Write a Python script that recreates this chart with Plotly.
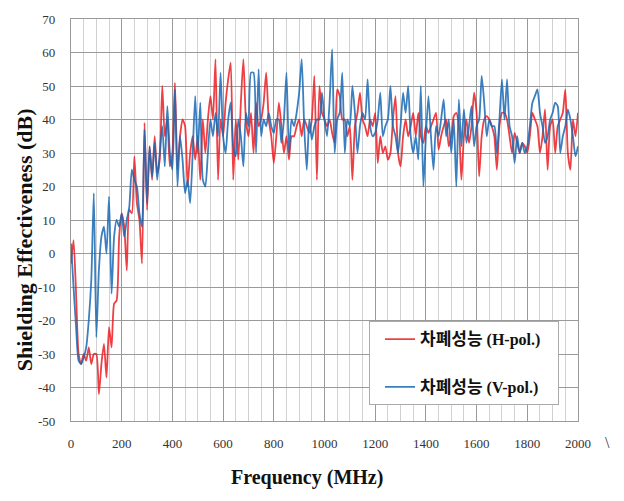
import plotly.graph_objects as go

freq_mhz = list(range(0, 2001, 10))

se_h_pol = [
    -3, 4, -12, -30, -33, -30, -32, -28, -33, -30,
    -30, -42, -33, -27, -37, -22, -28, -15, -14, 5,
    12, 8, -5, 13, 12, 29, 15, 10, -3, 39,
    13, 32, 22, 35, 24, 28, 50, 35, 40, 26,
    30, 51, 25, 35, 40, 38, 20, 30, 35, 28,
    35, 22, 40, 30, 40, 47, 40, 58, 22, 40,
    35, 45, 52, 57, 22, 40, 28, 45, 58, 40,
    35, 42, 30, 45, 38, 40, 45, 54, 40, 35,
    27, 35, 45, 38, 30, 35, 28, 35, 35, 38,
    40, 35, 40, 38, 36, 40, 53, 22, 50, 42,
    40, 38, 40, 36, 33, 49, 47, 40, 40, 35,
    38, 22, 38, 42, 48, 40, 38, 35, 40, 38,
    42, 27, 35, 30, 32, 28, 30, 40, 47, 30,
    26, 35, 40, 35, 38, 42, 35, 42, 35, 33,
    38, 36, 38, 40, 42, 31, 35, 38, 40, 32,
    35, 41, 42, 38, 22, 35, 40, 33, 38, 48,
    42, 23, 35, 40, 41, 40, 38, 35, 25, 38,
    42, 42, 40, 35, 30, 36, 33, 30, 33, 32,
    30, 35, 42, 40, 38, 30, 35, 43, 25, 38,
    40, 30, 38, 40, 42, 49, 30, 25, 40, 35,
    42,
]

se_v_pol = [
    3, -10, -22, -32, -33, -31, -28, -20, -8, 18,
    -25, -5, 5, 8, 0, 17, -12, 5, 10, 8,
    12, 5, 10, 14, 25, 22, 20, 12, 8, 37,
    15, 32, 23, 33, 22, 30, 38, 26, 44, 30,
    25, 49, 20, 35, 28, 18, 22, 15, 30, 47,
    30, 45, 22, 20, 30, 40, 35, 42, 35, 54,
    35, 30, 40, 45, 32, 29, 40, 35, 26, 42,
    38, 54, 54, 30, 55, 35, 40, 38, 42, 38,
    36, 40, 40, 33, 40, 54, 30, 40, 38, 42,
    48, 58, 38, 25, 40, 34, 38, 40, 40, 48,
    40, 35, 45, 61, 30, 40, 42, 54, 30, 40,
    38, 50, 42, 30, 38, 42, 40, 52, 38, 35,
    36, 40, 48, 35, 38, 40, 50, 38, 35, 30,
    38, 48, 42, 50, 35, 30, 35, 28, 50, 20,
    35, 47, 35, 25, 38, 35, 40, 46, 35, 40,
    30, 40, 20, 46, 32, 43, 33, 38, 44, 32,
    38, 40, 53, 45, 35, 40, 38, 38, 30, 40,
    52, 40, 52, 38, 35, 27, 35, 30, 33, 30,
    32, 38, 45, 47, 49, 42, 38, 33, 35, 40,
    42, 45, 44, 30, 35, 38, 43, 40, 35, 29,
    32,
]

KR = "<span style='font-family:\"Noto Sans CJK KR\";font-size:17px;font-weight:bold'>차폐성능</span>"
name_h = KR + " <b>(H-pol.)</b>&nbsp;&nbsp;&nbsp;"
name_v = KR + " <b>(V-pol.)</b>&nbsp;&nbsp;&nbsp;"

L, R, T, B = 71, 578, 14, 421
W, H = 624, 501
PW, PH = R - L, B - T


def px(xp):
    return (xp - L) / PW


def py(yp):
    return (B - yp) / PH


fig = go.Figure()
fig.add_trace(go.Scatter(
    x=freq_mhz, y=se_h_pol, mode="lines", name=name_h,
    line=dict(color="rgba(235,30,35,0.85)", width=1.8, shape="spline", smoothing=0.6),
    legendgroup="h",
))
fig.add_trace(go.Scatter(
    x=freq_mhz, y=se_v_pol, mode="lines", name=name_v,
    line=dict(color="rgba(25,105,180,0.85)", width=1.8, shape="spline", smoothing=0.6),
    legendgroup="v",
))

fig.update_layout(
    width=W, height=H,
    margin=dict(l=L, r=W - R, t=T, b=H - B),
    plot_bgcolor="white", paper_bgcolor="white",
    showlegend=True,
    legend=dict(
        x=px(369), y=py(320), xanchor="left", yanchor="top",
        bgcolor="white", bordercolor="#aaaaaa", borderwidth=1,
        font=dict(family="Liberation Serif", size=16, color="#111"),
        traceorder="grouped", tracegroupgap=24, itemwidth=30,
        indentation=10,
    ),
    xaxis=dict(
        range=[0, 2000], tickmode="array",
        tickvals=list(range(0, 2001, 200)),
        ticktext=[str(v) for v in range(0, 2001, 200)],
        showgrid=True, gridcolor="#9a9a9a", gridwidth=1.3,
        minor=dict(dtick=50, showgrid=True, gridcolor="#d2d2d2", gridwidth=1.2),
        zeroline=False, showline=True, linecolor="#9a9a9a", linewidth=1.3, mirror=True,
        tickfont=dict(family="Liberation Serif", size=13, color="#333"),
        ticks="", ticklabelstandoff=10,
    ),
    yaxis=dict(
        range=[-50, 70], tickmode="array",
        tickvals=list(range(-50, 71, 10)),
        ticktext=[str(v) for v in range(-50, 71, 10)],
        showgrid=True, gridcolor="#9a9a9a", gridwidth=1.3,
        zeroline=False, showline=True, linecolor="#9a9a9a", linewidth=1.3, mirror=True,
        tickfont=dict(family="Liberation Serif", size=13, color="#333"),
        ticks="", ticklabelstandoff=12,
    ),
    annotations=[
        dict(text="<b>Frequency (MHz)</b>", xref="paper", yref="paper",
             x=px(307), y=py(478), xanchor="center", yanchor="middle",
             showarrow=False, font=dict(family="Liberation Serif", size=20, color="#111")),
        dict(text="<b>Shielding Effectiveness (dB)</b>", xref="paper", yref="paper",
             x=px(24), y=py(238), xanchor="center", yanchor="middle",
             textangle=-90, showarrow=False,
             font=dict(family="Liberation Serif", size=22, color="#111")),
        dict(text="\\", xref="paper", yref="paper",
             x=px(607), y=py(443), xanchor="center", yanchor="middle",
             showarrow=False, font=dict(family="Liberation Serif", size=16, color="#333")),
    ],
)

fig.write_html(
    "out.html",
    config={"displayModeBar": False},
    post_script="document.body.style.margin='0';document.body.style.overflow='hidden';",
)
